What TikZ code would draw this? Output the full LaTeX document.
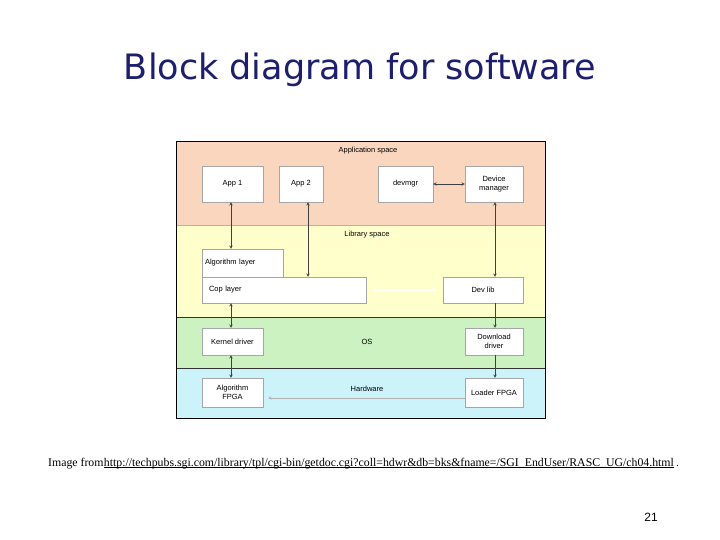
\documentclass[tikz,border=0pt]{standalone}
\usepackage{fontspec}
\setmainfont{Liberation Serif}
\newfontfamily\dsans{Liberation Sans}
\newfontfamily\tsans{DejaVu Sans}
\definecolor{appc}{RGB}{250,214,190}
\definecolor{libc}{RGB}{255,255,204}
\definecolor{osc}{RGB}{204,242,194}
\definecolor{hwc}{RGB}{204,242,250}
\definecolor{titc}{RGB}{30,30,110}
\begin{document}
\begin{tikzpicture}[x=1pt,y=-1pt,
  blk/.style={draw=gray!70,fill=white,inner sep=0,font=\dsans\fontsize{7.5}{8.5}\selectfont,align=center},
  arr/.style={<->,>=stealth,draw=gray!50!black,line width=0.5pt},
  lbl/.style={font=\dsans\fontsize{7.5}{8.5}\selectfont},
  capf/.style={font=\fontsize{11.8}{13}\selectfont,inner sep=0}]
\useasboundingbox (0,0) rectangle (720,540);
\node[font=\tsans\fontsize{35}{38}\selectfont,text=titc] (title) at (360,70) {Block diagram for software};
\fill[appc] (176,141) rectangle (545,225);
\fill[libc] (176,225) rectangle (545,317);
\fill[osc] (176,317) rectangle (545,368);
\fill[hwc] (176,368) rectangle (545,418);
\draw[gray!60] (176,225) -- (545,225);
\draw[black!80] (176,317) -- (545,317) (176,368) -- (545,368);
\draw[black,line width=0.8pt] (176,141) rectangle (545,418);
\node[lbl] (la) at (368,151) {Application space};
\node[lbl] (ll) at (367,235) {Library space};
\node[lbl] (lo) at (367,342) {OS};
\node[lbl] (lh) at (367,389) {Hardware};
\node[blk,minimum width=61,minimum height=36] (a1) at (232.5,184) {App 1};
\node[blk,minimum width=44,minimum height=36] (a2) at (301,184) {App 2};
\node[blk,minimum width=55,minimum height=36] (dm) at (405.5,184) {devmgr};
\node[blk,minimum width=58,minimum height=36] (dmg) at (494,184) {Device\\manager};
\node[blk,minimum width=81,minimum height=28,text width=75,align=left] (al) at (242.5,263) {Algorithm layer};
\node[blk,minimum width=164,minimum height=26,text width=150,align=left] (cop) at (284,290) {Cop layer};
\node[blk,minimum width=80,minimum height=26] (dl) at (483,290) {Dev lib};
\node[blk,minimum width=61,minimum height=27] (kd) at (232.5,341.5) {Kernel driver};
\node[blk,minimum width=58,minimum height=27] (dd) at (494,341.5) {Download\\driver};
\node[blk,minimum width=61,minimum height=29] (af) at (232.5,392.5) {Algorithm\\FPGA};
\node[blk,minimum width=58,minimum height=29] (lf) at (494,392.5) {Loader FPGA};
\draw[arr] (a1.south -| 231,0) -- (al.north -| 231,0);
\draw[arr] (a2.south -| 308,0) -- (cop.north -| 308,0);
\draw[arr] (dm) -- (dmg);
\draw[arr] (dmg.south -| 495,0) -- (dl.north -| 495,0);
\draw[<->,>=stealth,draw=white,line width=0.6pt] ([xshift=6pt]cop.east) -- ([xshift=-6pt]dl.west);
\draw[arr] (cop.south -| 231,0) -- (kd.north -| 231,0);
\draw[arr] (kd.south -| 231,0) -- (af.north -| 231,0);
\draw[->,>=stealth,draw=gray!50!black,line width=0.5pt] (dl.south -| 495,0) -- (dd.north -| 495,0);
\draw[->,>=stealth,draw=gray!50!black,line width=0.5pt] (dd.south -| 495,0) -- (lf.north -| 495,0);
\draw[->,>=stealth,draw=gray!60,line width=0.5pt] (lf.west |- 0,398) -- ([xshift=5pt]af.east |- 0,398);
\node[capf,anchor=base west] (cap) at (48,466) {Image from\ };
\node[capf,anchor=base west] (url) at (cap.base east) {http://techpubs.sgi.com/library/tpl/cgi-bin/getdoc.cgi?coll=hdwr\&db=bks\&fname=/SGI\_EndUser/RASC\_UG/ch04.html};
\node[capf,anchor=base west] (dot) at (url.base east) {\,.};
\draw[line width=0.5pt] ([yshift=-1.5pt]url.base west) -- ([yshift=-1.5pt]url.base east);
\node[font=\dsans\fontsize{12}{14}\selectfont] (pg) at (651,517) {21};
\end{tikzpicture}
\end{document}
